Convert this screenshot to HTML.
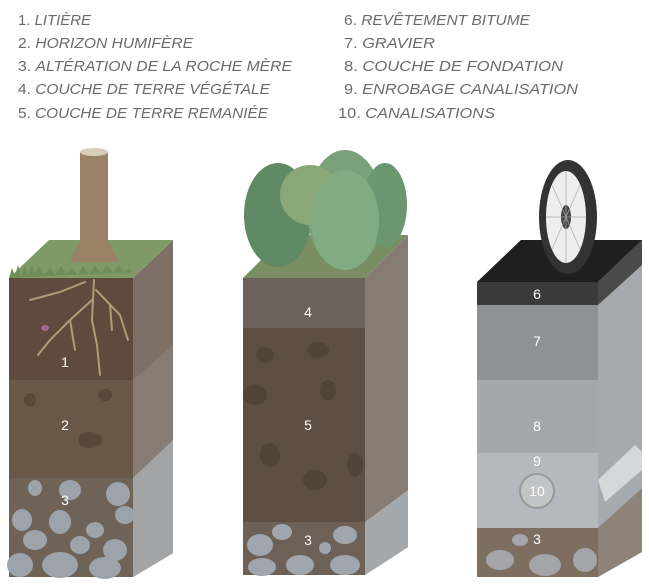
<!DOCTYPE html>
<html><head><meta charset="utf-8"><style>
html,body{margin:0;padding:0;background:#fff;width:649px;height:587px;overflow:hidden}
svg{display:block}
.t{font-family:"Liberation Sans",sans-serif;font-size:15px;fill:#6b6b6b;font-style:italic}
.n{font-family:"Liberation Sans",sans-serif;font-size:14px;fill:#fff;text-anchor:middle}
</style></head><body>
<svg width="649" height="587" viewBox="0 0 649 587" xmlns="http://www.w3.org/2000/svg">
<g class="t">
<text x="18" y="25" textLength="73" lengthAdjust="spacingAndGlyphs"><tspan font-style="normal">1. </tspan><tspan>LITIÈRE</tspan></text>
<text x="18" y="48" textLength="175" lengthAdjust="spacingAndGlyphs"><tspan font-style="normal">2. </tspan>HORIZON HUMIFÈRE</text>
<text x="18" y="71" textLength="274" lengthAdjust="spacingAndGlyphs"><tspan font-style="normal">3. </tspan>ALTÉRATION DE LA ROCHE MÈRE</text>
<text x="18" y="94" textLength="252" lengthAdjust="spacingAndGlyphs"><tspan font-style="normal">4. </tspan>COUCHE DE TERRE VÉGÉTALE</text>
<text x="18" y="118" textLength="250" lengthAdjust="spacingAndGlyphs"><tspan font-style="normal">5. </tspan>COUCHE DE TERRE REMANIÉE</text>
<text x="344" y="25" textLength="186" lengthAdjust="spacingAndGlyphs"><tspan font-style="normal">6. </tspan>REVÊTEMENT BITUME</text>
<text x="344" y="48" textLength="91" lengthAdjust="spacingAndGlyphs"><tspan font-style="normal">7. </tspan>GRAVIER</text>
<text x="344" y="71" textLength="219" lengthAdjust="spacingAndGlyphs"><tspan font-style="normal">8. </tspan>COUCHE DE FONDATION</text>
<text x="344" y="94" textLength="234" lengthAdjust="spacingAndGlyphs"><tspan font-style="normal">9. </tspan>ENROBAGE CANALISATION</text>
<text x="338" y="118" textLength="157" lengthAdjust="spacingAndGlyphs"><tspan font-style="normal">10. </tspan>CANALISATIONS</text>
</g>

<!-- BLOCK 1 -->
<rect x="9" y="278" width="124" height="102" fill="#5e4b3d"/>
<rect x="9" y="380" width="124" height="98" fill="#695747"/>
<rect x="9" y="478" width="124" height="99" fill="#6f6257"/>
<g fill="#4e3f33" opacity="0.6"><ellipse cx="30" cy="400" rx="6" ry="7"/><ellipse cx="90" cy="440" rx="12" ry="8"/><ellipse cx="105" cy="395" rx="7" ry="6"/></g>
<g fill="#9da3aa">
<ellipse cx="35" cy="488" rx="7" ry="8"/><ellipse cx="70" cy="490" rx="11" ry="10"/><ellipse cx="118" cy="494" rx="12" ry="12"/>
<ellipse cx="22" cy="520" rx="10" ry="11"/><ellipse cx="60" cy="522" rx="11" ry="12"/><ellipse cx="95" cy="530" rx="9" ry="8"/><ellipse cx="125" cy="515" rx="10" ry="9"/>
<ellipse cx="35" cy="540" rx="12" ry="10"/><ellipse cx="80" cy="545" rx="10" ry="9"/><ellipse cx="115" cy="550" rx="12" ry="11"/>
<ellipse cx="20" cy="565" rx="13" ry="12"/><ellipse cx="60" cy="565" rx="18" ry="13"/><ellipse cx="105" cy="568" rx="16" ry="11"/>
</g>
<polygon points="133,278 173,240 173,553 133,577" fill="#7d7067"/>
<polygon points="133,380 173,345 173,553 133,577" fill="#877c73"/>
<polygon points="133,478 173,440 173,553 133,577" fill="#a3a4a6"/>
<polygon points="9,278 49,240 173,240 133,278" fill="#7f9a66"/>
<path d="M9,278 l3,-10 3,8 3,-11 3,10 4,-9 3,9 4,-10 3,9 5,-8 4,9 6,-8 5,8 6,-9 5,8 6,-7 6,8 5,-9 6,8 6,-8 6,7 6,-8 6,8 6,-9 4,9 6,-5 4,4z" fill="#6f8e57"/>
<path d="M80,152 L108,152 L108,240 L120,262 L70,262 L80,240 Z" fill="#9b8266"/>
<ellipse cx="94" cy="152" rx="14" ry="4" fill="#d8cdb9"/>
<g stroke="#b09a78" stroke-width="2" fill="none" stroke-linecap="round">
<path d="M94,280 L92,320 L97,345 L100,375"/><path d="M92,300 L70,320 L50,340 L38,355"/><path d="M96,290 L120,315 L128,340"/><path d="M85,282 L60,292 L30,300"/><path d="M70,320 L75,350"/><path d="M110,305 L112,330"/>
</g>
<ellipse cx="45" cy="328" rx="4" ry="3" fill="#9c6b8c"/>
<text class="n" x="65" y="367">1</text><text class="n" x="65" y="430">2</text><text class="n" x="65" y="505">3</text>

<!-- BLOCK 2 -->
<rect x="243" y="278" width="122" height="50" fill="#6c625c"/>
<rect x="243" y="328" width="122" height="194" fill="#5e4e41"/>
<g fill="#4e3f33" opacity="0.7"><ellipse cx="318" cy="350" rx="11" ry="8"/><ellipse cx="265" cy="355" rx="9" ry="8"/><ellipse cx="328" cy="390" rx="8" ry="10"/><ellipse cx="255" cy="395" rx="12" ry="10"/><ellipse cx="270" cy="455" rx="10" ry="12"/><ellipse cx="315" cy="480" rx="12" ry="10"/><ellipse cx="355" cy="465" rx="8" ry="12"/></g>
<rect x="243" y="522" width="122" height="53" fill="#6d6157"/>
<g fill="#a0a6ad"><ellipse cx="282" cy="532" rx="10" ry="8"/><ellipse cx="260" cy="545" rx="13" ry="11"/><ellipse cx="345" cy="535" rx="12" ry="9"/><ellipse cx="262" cy="567" rx="14" ry="9"/><ellipse cx="300" cy="565" rx="14" ry="10"/><ellipse cx="345" cy="565" rx="15" ry="10"/><ellipse cx="325" cy="548" rx="6" ry="6"/></g>
<polygon points="365,278 408,235 408,547 365,575" fill="#877c73"/>
<polygon points="365,522 408,490 408,547 365,575" fill="#a5a8ab"/>
<polygon points="243,278 286,235 408,235 365,278" fill="#7a8e63"/>
<ellipse cx="278" cy="215" rx="34" ry="52" fill="#5f8a63"/>
<ellipse cx="345" cy="210" rx="38" ry="60" fill="#7aa27a"/>
<ellipse cx="385" cy="205" rx="22" ry="42" fill="#6c9670"/>
<ellipse cx="310" cy="195" rx="30" ry="30" fill="#8aa778"/>
<ellipse cx="345" cy="220" rx="34" ry="50" fill="#82ab82"/>
<text class="n" x="308" y="317">4</text><text class="n" x="308" y="430">5</text><text class="n" x="308" y="545">3</text>

<!-- BLOCK 3 -->
<rect x="477" y="282" width="121" height="23" fill="#3a3a3a"/>
<rect x="477" y="305" width="121" height="75" fill="#8e9296"/>
<rect x="477" y="380" width="121" height="73" fill="#a4a8ac"/>
<rect x="477" y="453" width="121" height="75" fill="#b5b9bd"/>
<rect x="477" y="528" width="121" height="49" fill="#7d6e60"/>
<g fill="#a8acb0" opacity="0.9"><ellipse cx="500" cy="560" rx="14" ry="10"/><ellipse cx="545" cy="565" rx="16" ry="11"/><ellipse cx="585" cy="560" rx="12" ry="12"/><ellipse cx="520" cy="540" rx="8" ry="6"/></g>
<circle cx="537" cy="491" r="17" fill="#c3c4c5" stroke="#999" stroke-width="2"/>
<polygon points="598,282 642,240 642,552 598,577" fill="#a6aaae"/>
<polygon points="598,282 642,240 642,265 598,305" fill="#4a4a4a"/>
<polygon points="598,528 642,488 642,552 598,577" fill="#8e8378"/>
<polygon points="598,480 635,445 642,452 642,470 605,502" fill="#d6d7d8"/>
<polygon points="477,282 521,240 642,240 598,282" fill="#1f1f1f"/>
<ellipse cx="568" cy="217" rx="29" ry="57" fill="#333"/>
<ellipse cx="566" cy="217" rx="20" ry="46" fill="#eee"/>
<ellipse cx="566" cy="217" rx="5" ry="12" fill="#444"/>
<g stroke="#aaa" stroke-width="0.7"><line x1="566" y1="171" x2="566" y2="263"/><line x1="546" y1="217" x2="586" y2="217"/><line x1="552" y1="185" x2="580" y2="249"/><line x1="580" y1="185" x2="552" y2="249"/></g>
<text class="n" x="537" y="299">6</text><text class="n" x="537" y="346">7</text><text class="n" x="537" y="431">8</text><text class="n" x="537" y="466">9</text><text class="n" x="537" y="496">10</text><text class="n" x="537" y="544">3</text>
</svg>
</body></html>
